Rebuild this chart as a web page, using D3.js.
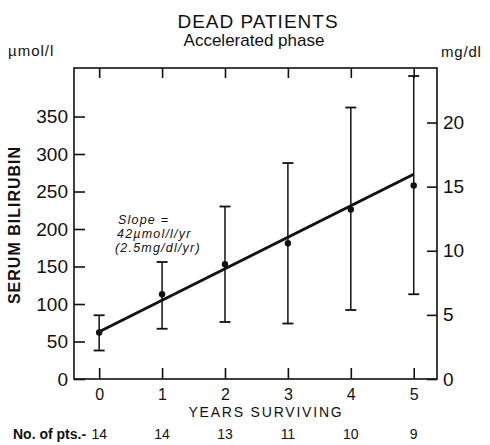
<!DOCTYPE html>
<html>
<head>
<meta charset="utf-8">
<script src="https://cdn.jsdelivr.net/npm/d3@7"></script>
<style>
  body { margin: 0; background: #fff; }
  svg text { font-family: "Liberation Sans", Arial, sans-serif; fill: #111; }
  .axis path, .axis line { stroke: #111; }
</style>
</head>
<body>
<div id="chart"></div>
<script>
// data (serum bilirubin, umol/l)
var years = [0, 1, 2, 3, 4, 5];
var means = [62, 113, 153, 181, 226, 258];
var upper = [85, 156, 230, 288, 362, 404];
var lower = [38, 67, 76, 74, 92, 113];
var nPts = [14, 14, 13, 11, 10, 9];
var leftTicks = [0, 50, 100, 150, 200, 250, 300, 350];
var rightTicks = [0, 5, 10, 15, 20];
var fitIntercept = 63;
var fitSlope = 42;
var umolPerMg = 17.1;
var slopeNote = ["Slope =", "42µmol/l/yr", "(2.5mg/dl/yr)"];

var width = 490, height = 445;

var svg = d3.select("#chart").append("svg")
  .attr("width", width)
  .attr("height", height);

var x = d3.scaleLinear().domain([-0.4, 5.37]).range([74, 437]);
var y = d3.scaleLinear().domain([0, 414.7]).range([379, 68]);
var y2 = d3.scaleLinear().domain([0, 414.7 / umolPerMg]).range([379, 68]);

// frame
svg.append("rect")
  .attr("x", x.range()[0])
  .attr("y", y.range()[1])
  .attr("width", x.range()[1] - x.range()[0])
  .attr("height", y.range()[0] - y.range()[1])
  .attr("fill", "none")
  .attr("stroke", "#111")
  .attr("stroke-width", 1.6);

// axes
var gL = svg.append("g")
  .attr("class", "axis")
  .attr("transform", "translate(" + x.range()[0] + ",0)")
  .call(d3.axisLeft(y).tickValues(leftTicks).tickSize(-11).tickPadding(6));

var gR = svg.append("g")
  .attr("class", "axis")
  .attr("transform", "translate(" + x.range()[1] + ",0)")
  .call(d3.axisRight(y2).tickValues(rightTicks).tickSize(-10).tickPadding(6));

var gB = svg.append("g")
  .attr("class", "axis")
  .attr("transform", "translate(0," + y.range()[0] + ")")
  .call(d3.axisBottom(x).tickValues(years).tickSize(-11).tickPadding(10).tickFormat(d3.format("d")));

var gT = svg.append("g")
  .attr("class", "axis")
  .attr("transform", "translate(0," + y.range()[1] + ")")
  .call(d3.axisTop(x).tickValues(years).tickSize(-10).tickFormat(""));

[gL, gR, gB, gT].forEach(function(g) {
  g.select(".domain").remove();
  g.selectAll("line").attr("stroke-width", 1.6);
  g.selectAll("text")
    .style("font-family", "'Liberation Sans', Arial, sans-serif")
    .style("font-size", "19px")
    .attr("fill", "#111");
});
gB.selectAll("text").style("font-size", "16px");

// regression line
svg.append("line")
  .attr("x1", x(years[0]))
  .attr("y1", y(fitIntercept + fitSlope * years[0]))
  .attr("x2", x(years[years.length - 1]))
  .attr("y2", y(fitIntercept + fitSlope * years[years.length - 1]))
  .attr("stroke", "#111")
  .attr("stroke-width", 3);

// error bars
var bars = svg.append("g").selectAll("g")
  .data(years)
  .enter().append("g");

bars.append("line")
  .attr("x1", function(d) { return x(d); })
  .attr("x2", function(d) { return x(d); })
  .attr("y1", function(d, i) { return y(upper[i]); })
  .attr("y2", function(d, i) { return y(lower[i]); })
  .attr("stroke", "#111")
  .attr("stroke-width", 1.5);

bars.append("line")
  .attr("x1", function(d) { return x(d) - 5.5; })
  .attr("x2", function(d) { return x(d) + 5.5; })
  .attr("y1", function(d, i) { return y(upper[i]); })
  .attr("y2", function(d, i) { return y(upper[i]); })
  .attr("stroke", "#111")
  .attr("stroke-width", 1.8);

bars.append("line")
  .attr("x1", function(d) { return x(d) - 5.5; })
  .attr("x2", function(d) { return x(d) + 5.5; })
  .attr("y1", function(d, i) { return y(lower[i]); })
  .attr("y2", function(d, i) { return y(lower[i]); })
  .attr("stroke", "#111")
  .attr("stroke-width", 1.8);

bars.append("circle")
  .attr("cx", function(d) { return x(d); })
  .attr("cy", function(d, i) { return y(means[i]); })
  .attr("r", 3.2)
  .attr("fill", "#111");

// titles
svg.append("text")
  .attr("x", 258).attr("y", 28)
  .attr("text-anchor", "middle")
  .style("font-size", "19px")
  .style("letter-spacing", "1px")
  .text("DEAD PATIENTS");

svg.append("text")
  .attr("x", 254).attr("y", 46)
  .attr("text-anchor", "middle")
  .style("font-size", "17px")
  .text("Accelerated phase");

svg.append("text")
  .attr("x", 8).attr("y", 56)
  .style("font-size", "15px")
  .style("letter-spacing", "1px")
  .text("µmol/l");

svg.append("text")
  .attr("x", 441).attr("y", 57)
  .style("font-size", "15px")
  .style("letter-spacing", "0.8px")
  .text("mg/dl");

svg.append("text")
  .attr("transform", "translate(20,225) rotate(-90)")
  .attr("text-anchor", "middle")
  .style("font-size", "16px")
  .style("font-weight", "bold")
  .style("letter-spacing", "1px")
  .text("SERUM BILIRUBIN");

svg.append("text")
  .attr("x", 266).attr("y", 417)
  .attr("text-anchor", "middle")
  .style("font-size", "14px")
  .style("letter-spacing", "1.8px")
  .text("YEARS SURVIVING");

// slope annotation
svg.append("g").selectAll("text")
  .data(slopeNote)
  .enter().append("text")
  .attr("x", function(d, i) { return [118, 117, 115][i]; })
  .attr("y", function(d, i) { return 224 + i * 14; })
  .style("font-size", "12.5px")
  .style("font-style", "italic")
  .style("letter-spacing", "1.2px")
  .text(function(d) { return d; });

// number of patients
svg.append("text")
  .attr("x", 13).attr("y", 439)
  .style("font-size", "14px")
  .style("font-weight", "bold")
  .text("No. of pts.-");

svg.append("g").selectAll("text")
  .data(nPts)
  .enter().append("text")
  .attr("x", function(d, i) { return x(years[i]); })
  .attr("y", 439)
  .attr("text-anchor", "middle")
  .style("font-size", "14px")
  .text(function(d) { return d; });
</script>
</body>
</html>
